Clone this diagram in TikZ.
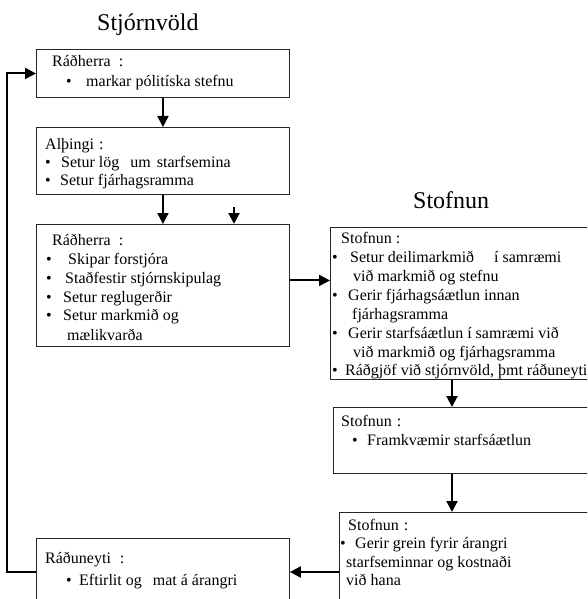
\documentclass[tikz,border=0pt]{standalone}
\usepackage{fontspec}
\setmainfont{Liberation Serif}
\usetikzlibrary{arrows.meta}
\begin{document}
\begin{tikzpicture}[x=1pt,y=-1pt,
  box/.style={draw=black!85,line width=0.9pt,anchor=north west,inner sep=0pt,fill=white},
  txt/.style={anchor=base west,inner sep=0pt,font=\fontsize{16}{19.7}\selectfont},
  bul/.style={anchor=base,inner sep=0pt,font=\fontsize{16}{19.7}\selectfont},
  ttl/.style={anchor=base west,inner sep=0pt,font=\fontsize{24}{28}\selectfont},
  arr/.style={line width=2pt,-{Triangle[length=11pt,width=11pt]}}]
\useasboundingbox (0,0) rectangle (587,599);
\clip (0,0) rectangle (587,599);

% column headings
\node[ttl] (hgov) at (97,31) {Stjórnvöld};
\node[ttl] (hinst) at (413,208) {Stofnun};

% left column boxes
\node[box,minimum width=253pt,minimum height=48pt] (b1) at (36,49) {};
\node[box,minimum width=253pt,minimum height=67pt] (b2) at (36,127) {};
\node[box,minimum width=253pt,minimum height=122pt] (b3) at (36,224) {};
\node[box,minimum width=253pt,minimum height=70pt] (b4) at (36,538) {};

% right column boxes
\node[box,minimum width=262pt,minimum height=152pt] (s1) at (330,227) {};
\node[box,minimum width=260pt,minimum height=66pt] (s2) at (333,407) {};
\node[box,minimum width=254pt,minimum height=95pt] (s3) at (339,512) {};

% box texts
\node[txt] (t1a) at (52,67) {Ráðherra\hspace{8pt}:};
\node[bul] (t1b) at (69,87) {•};
\node[txt] (t1c) at (86,87) {markar pólitíska stefnu};

\node[txt] (t2a) at (45,149) {Alþingi\hspace{5pt}:};
\node[bul] (t2b) at (48,167) {•};
\node[txt] (t2c) at (61,167) {Setur lög\hspace{11pt}um\hspace{6pt}starfsemina};
\node[bul] (t2d) at (48,185) {•};
\node[txt] (t2e) at (60,185) {Setur fjárhagsramma};

\node[txt] (t3a) at (52,245) {Ráðherra\hspace{8pt}:};
\node[bul] (t3b) at (49,264) {•};
\node[txt] (t3c) at (68,264) {Skipar forstjóra};
\node[bul] (t3d) at (49,283) {•};
\node[txt] (t3e) at (65,283) {Staðfestir stjórnskipulag};
\node[bul] (t3f) at (49,302) {•};
\node[txt] (t3g) at (63,302) {Setur reglugerðir};
\node[bul] (t3h) at (49,320) {•};
\node[txt] (t3i) at (63,320) {Setur markmið og};
\node[txt] (t3j) at (67,340) {mælikvarða};

\node[txt] (t4a) at (45,563) {Ráðuneyti\hspace{9pt}:};
\node[bul] (t4b) at (69,585) {•};
\node[txt] (t4c) at (79,585) {Eftirlit og\hspace{11pt}mat á\hspace{4pt}árangri};

\node[txt] (u1a) at (341,243) {Stofnun :};
\node[bul] (u1b) at (335,262) {•};
\node[txt] (u1c) at (350,262) {Setur deilimarkmið\hspace{20pt}í samræmi};
\node[txt] (u1d) at (353,281) {við markmið og stefnu};
\node[bul] (u1e) at (335,300) {•};
\node[txt] (u1f) at (348,300) {Gerir fjárhagsáætlun innan};
\node[txt] (u1g) at (352,319) {fjárhagsramma};
\node[bul] (u1h) at (335,338) {•};
\node[txt] (u1i) at (348,338) {Gerir starfsáætlun í samræmi við};
\node[txt] (u1j) at (353,357) {við markmið og fjárhagsramma};
\node[bul] (u1k) at (335,375) {•};
\node[txt] (u1l) at (345,375) {Ráðgjöf við stjórnvöld, þmt ráðuneyti};

\node[txt] (u2a) at (341,426) {Stofnun\hspace{5pt}:};
\node[bul] (u2b) at (355,445) {•};
\node[txt] (u2c) at (367,445) {Framkvæmir starfsáætlun};

\node[txt] (u3a) at (348,530) {Stofnun\hspace{5pt}:};
\node[bul] (u3b) at (343,548) {•};
\node[txt] (u3c) at (355,548) {Gerir grein fyrir árangri};
\node[txt] (u3d) at (346,567) {starfseminnar og kostnaði};
\node[txt] (u3e) at (346,585) {við hana};

% connectors
\coordinate (c2) at (234,207);
\coordinate (sx) at (452,0);
\coordinate (ly) at (0,572);
\coordinate (lp) at (7,0);
\draw[arr] (b1.south) -- (b2.north);
\draw[arr] (b2.south) -- (b3.north);
\draw[arr] (c2) -- (c2 |- b3.north);
\draw[arr] ([yshift=5pt]b3.east) -- ([yshift=5pt]b3.east -| s1.west);
\draw[arr] (s1.south -| sx) -- (s2.north -| sx);
\draw[arr] (s2.south -| sx) -- (s3.north -| sx);
\draw[arr] (s3.west |- ly) -- (b4.east |- ly);
\draw[arr] (b4.west |- ly) -| (lp |- b1.west) -- (b1.west);
\end{tikzpicture}
\end{document}
